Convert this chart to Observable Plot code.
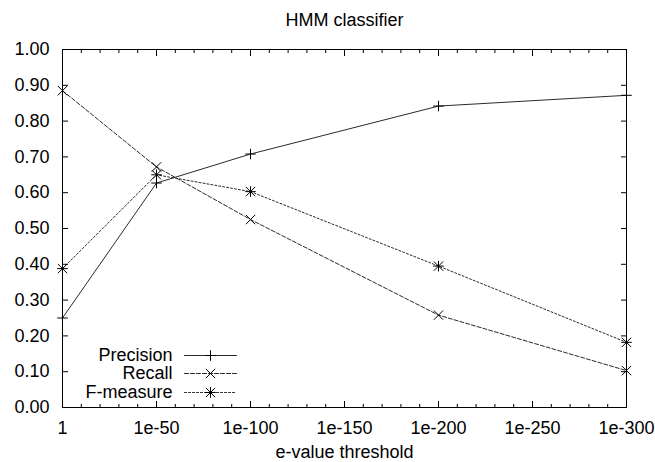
<!DOCTYPE html>
<html>
<head>
<meta charset="utf-8">
<script src="https://cdn.jsdelivr.net/npm/d3@7"></script>
<script src="https://cdn.jsdelivr.net/npm/@observablehq/plot@0.6"></script>
<style>
  html, body { margin: 0; padding: 0; background: #fff; }
</style>
</head>
<body>
<div id="chart"></div>
<script>
// e-value threshold exponent (1 = 1e-0)
const thresholds = [0, 50, 100, 200, 300];
const precision = [0.25, 0.627, 0.708, 0.842, 0.872];
const recall = [0.885, 0.672, 0.525, 0.258, 0.103];
const fmeasure = [0.388, 0.650, 0.603, 0.395, 0.182];

const seriesNames = ["Precision", "Recall", "F-measure"];
const xTicks = [0, 50, 100, 150, 200, 250, 300];
const xTickLabels = ["1", "1e-50", "1e-100", "1e-150", "1e-200", "1e-250", "1e-300"];
const xMinorTicks = d3.range(0, 301, 10);
const yTicks = [0, 0.1, 0.2, 0.3, 0.4, 0.5, 0.6, 0.7, 0.8, 0.9, 1.0];

const title = "HMM classifier";
const xTitle = "e-value threshold";

const rows = (vals, name) => thresholds.map((t, i) => ({t, v: vals[i], name}));
const P = rows(precision, seriesNames[0]);
const R = rows(recall, seriesNames[1]);
const F = rows(fmeasure, seriesNames[2]);

const ink = "#000";
const lineInk = "#2a2a2a";
const font = "'Liberation Sans', Arial, Helvetica, sans-serif";

const lineShape = {draw(context, l) { context.moveTo(0, 0); context.lineTo(0, -l); }};
const dashes = [null, "4,2", "2,2"];
const legendDy = [-52, -34, -15];

const legendMarks = seriesNames.flatMap((name, i) => [
  Plot.text([name], {frameAnchor: "bottom-left", lineAnchor: "middle", text: d => d, dx: 110, dy: legendDy[i], textAnchor: "end", fill: ink, fontSize: 18}),
  Plot.vector([name], {frameAnchor: "bottom-left", dx: 122, dy: legendDy[i], length: 52, rotate: 90, anchor: "start", shape: lineShape, stroke: lineInk, strokeWidth: 1, strokeDasharray: dashes[i]})
]);
const legendSymbols = [
  Plot.dot([seriesNames[0]], {frameAnchor: "bottom-left", dx: 148, dy: legendDy[0], symbol: "plus", r: 3.5, stroke: ink, strokeWidth: 1}),
  Plot.dot([seriesNames[1]], {frameAnchor: "bottom-left", dx: 148, dy: legendDy[1], symbol: "times", r: 4.3, stroke: ink, strokeWidth: 1}),
  Plot.dot([seriesNames[2]], {frameAnchor: "bottom-left", dx: 148, dy: legendDy[2], symbol: "plus", r: 3.5, stroke: ink, strokeWidth: 1}),
  Plot.dot([seriesNames[2]], {frameAnchor: "bottom-left", dx: 148, dy: legendDy[2], symbol: "times", r: 4.3, stroke: ink, strokeWidth: 1})
];

const chart = Plot.plot({
  width: 655,
  height: 462,
  marginLeft: 62,
  marginRight: 29,
  marginTop: 49,
  marginBottom: 55,
  style: {fontFamily: font, fontSize: "18px", background: "#fff", color: ink, overflow: "visible"},
  x: {domain: [0, 300], label: null},
  y: {domain: [0, 1], label: null},
  marks: [
    // minor x ticks, bottom and top (inward)
    Plot.axisX({anchor: "bottom", ticks: xMinorTicks, tickSize: -3, fill: "none", label: null}),
    Plot.axisX({anchor: "top", ticks: xMinorTicks, tickSize: -3, fill: "none", label: null}),
    // major x ticks
    Plot.axisX({anchor: "bottom", ticks: xTicks, tickSize: -6, fill: "none", label: null}),
    Plot.axisX({anchor: "top", ticks: xTicks, tickSize: -6, fill: "none", label: null}),
    // x tick labels
    Plot.axisX({anchor: "bottom", ticks: xTicks, tickSize: 0, tickPadding: 14, tickFormat: d => xTickLabels[xTicks.indexOf(d)], fontSize: 18, label: null}),
    // y ticks, left and right (inward)
    Plot.axisY({anchor: "left", ticks: yTicks, tickSize: -6, fill: "none", label: null}),
    Plot.axisY({anchor: "right", ticks: yTicks, tickSize: -6, fill: "none", label: null}),
    Plot.axisY({anchor: "left", ticks: yTicks, tickSize: 0, tickPadding: 13, tickFormat: d3.format(".2f"), fontSize: 18, label: null}),
    Plot.frame({stroke: ink, strokeWidth: 1}),
    // series lines
    Plot.line(P, {x: "t", y: "v", stroke: lineInk, strokeWidth: 1}),
    Plot.line(R, {x: "t", y: "v", stroke: lineInk, strokeWidth: 1, strokeDasharray: dashes[1]}),
    Plot.line(F, {x: "t", y: "v", stroke: lineInk, strokeWidth: 1, strokeDasharray: dashes[2]}),
    // markers
    Plot.dot(P, {x: "t", y: "v", symbol: "plus", r: 3.5, stroke: ink, strokeWidth: 1}),
    Plot.dot(R, {x: "t", y: "v", symbol: "times", r: 4.3, stroke: ink, strokeWidth: 1}),
    Plot.dot(F, {x: "t", y: "v", symbol: "plus", r: 3.5, stroke: ink, strokeWidth: 1}),
    Plot.dot(F, {x: "t", y: "v", symbol: "times", r: 4.3, stroke: ink, strokeWidth: 1}),
    // legend
    ...legendMarks,
    ...legendSymbols,
    // title and x-axis title
    Plot.text([title], {frameAnchor: "top", lineAnchor: "middle", text: d => d, dy: -29, fill: ink, fontSize: 18}),
    Plot.text([xTitle], {frameAnchor: "bottom", lineAnchor: "middle", text: d => d, dy: 45, fill: ink, fontSize: 18})
  ]
});
document.getElementById("chart").appendChild(chart);
</script>
</body>
</html>
